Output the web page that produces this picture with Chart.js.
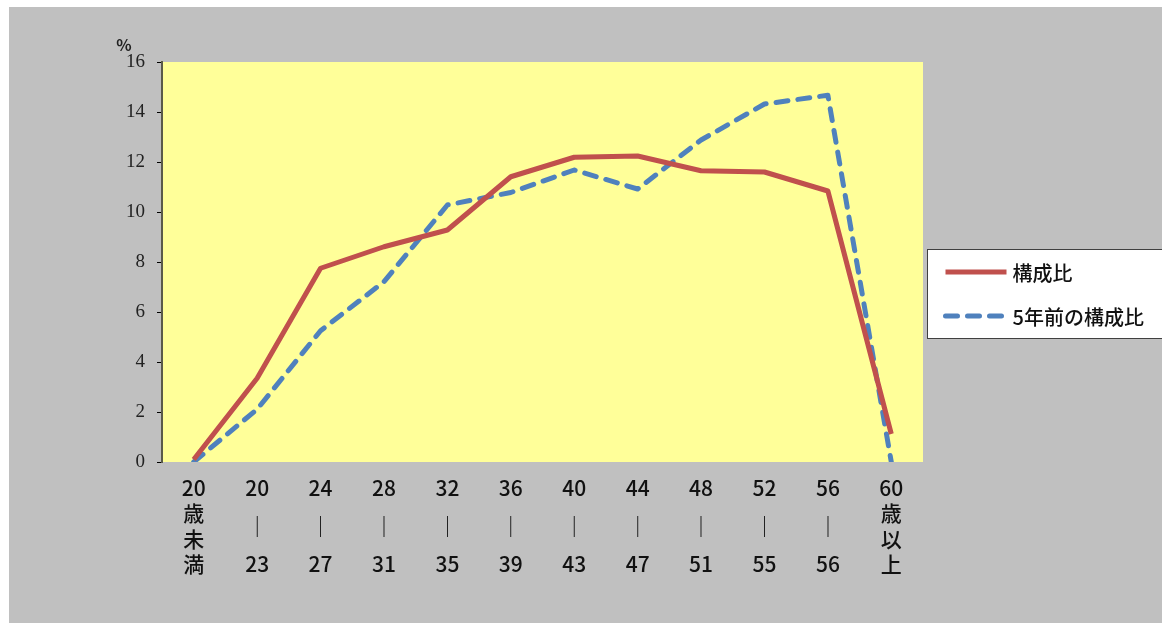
<!DOCTYPE html>
<html lang="ja">
<head>
<meta charset="utf-8">
<title>構成比</title>
<script src="https://cdn.jsdelivr.net/npm/chart.js@4/dist/chart.umd.min.js"></script>
<style>
  html, body { margin: 0; padding: 0; background: #fff; overflow: hidden; }
  .frame {
    position: absolute; left: 9px; top: 7px; width: 1153px; height: 616px;
    background: #c0c0c0;
  }
  canvas { display: block; }
</style>
</head>
<body>
<div class="frame"><canvas id="age-chart" width="1153" height="616"></canvas></div>
<script>
// 年齢区分（各行は半行ずつ：数字 / 縦線 / 数字）
const ageLabels = [
  ['20', '', '歳', '', '未', '', '満'],
  ['20', '', '', '｜', '', '', '23'],
  ['24', '', '', '｜', '', '', '27'],
  ['28', '', '', '｜', '', '', '31'],
  ['32', '', '', '｜', '', '', '35'],
  ['36', '', '', '｜', '', '', '39'],
  ['40', '', '', '｜', '', '', '43'],
  ['44', '', '', '｜', '', '', '47'],
  ['48', '', '', '｜', '', '', '51'],
  ['52', '', '', '｜', '', '', '55'],
  ['56', '', '', '｜', '', '', '56'],
  ['60', '', '歳', '', '以', '', '上']
];
const currentShare = [0.1, 3.35, 7.75, 8.61, 9.28, 11.41, 12.19, 12.24, 11.65, 11.6, 10.84, 1.12];
const previousShare = [0, 2.11, 5.25, 7.21, 10.28, 10.78, 11.68, 10.92, 12.88, 14.32, 14.67, 0];
const yTicks = [0, 2, 4, 6, 8, 10, 12, 14, 16];

const plotBackground = {
  id: 'plotBackground',
  beforeDraw (chart) {
    const { ctx, chartArea: a } = chart;
    ctx.save();
    ctx.fillStyle = '#ffff99';
    ctx.fillRect(a.left, a.top, a.right - a.left, a.bottom - a.top);
    ctx.restore();
  },
  afterDraw (chart) {
    const { ctx, chartArea: a } = chart;
    ctx.save();
    // unit label
    ctx.fillStyle = '#222';
    ctx.font = 'bold 16px "Noto Sans CJK JP", sans-serif';
    ctx.textAlign = 'center';
    ctx.textBaseline = 'middle';
    ctx.fillText('%', a.left - 38, a.top - 17);

    // legend box
    const boxLeft = a.right + 4.5;
    const boxTop = 242.5;
    const boxBottom = 331.5;
    ctx.fillStyle = '#ffffff';
    ctx.fillRect(boxLeft, boxTop, chart.width - boxLeft + 10, boxBottom - boxTop);
    ctx.strokeStyle = '#404040';
    ctx.lineWidth = 1;
    ctx.strokeRect(boxLeft, boxTop, chart.width - boxLeft + 10, boxBottom - boxTop);

    const rows = [265, 309];
    chart.data.datasets.forEach((ds, i) => {
      const y = rows[i];
      ctx.beginPath();
      ctx.strokeStyle = ds.borderColor;
      ctx.lineWidth = ds.borderWidth;
      ctx.lineCap = ds.borderCapStyle;
      ctx.setLineDash(ds.borderDash || []);
      ctx.moveTo(boxLeft + 18, y);
      ctx.lineTo(boxLeft + 79, y);
      ctx.stroke();
      ctx.setLineDash([]);
      ctx.fillStyle = '#111';
      ctx.font = '500 20px "Noto Sans CJK JP", sans-serif';
      ctx.textAlign = 'left';
      ctx.fillText(ds.label, boxLeft + 85, y + 1);
    });
    ctx.restore();
  }
};

new Chart(document.getElementById('age-chart'), {
  type: 'line',
  data: {
    labels: ageLabels,
    datasets: [
      {
        label: '構成比',
        data: currentShare,
        borderColor: '#c0504d',
        borderWidth: 5,
        borderCapStyle: 'butt',
        borderJoinStyle: 'round',
        pointRadius: 0,
        tension: 0,
        fill: false
      },
      {
        label: '5年前の構成比',
        data: previousShare,
        borderColor: '#4f81bd',
        borderWidth: 5,
        borderDash: [12, 10],
        borderCapStyle: 'round',
        borderJoinStyle: 'round',
        pointRadius: 0,
        tension: 0,
        fill: false
      }
    ]
  },
  options: {
    responsive: false,
    animation: false,
    events: [],
    layout: { padding: { top: 55, right: 239, left: 0, bottom: 0 } },
    plugins: {
      legend: { display: false },
      tooltip: { enabled: false }
    },
    scales: {
      x: {
        offset: true,
        grid: { display: false },
        border: { display: false },
        ticks: {
          autoSkip: false,
          maxRotation: 0,
          padding: 12,
          color: '#111',
          font: { family: '"Noto Sans CJK JP", sans-serif', size: 21, weight: '500', lineHeight: 0.6 }
        },
        afterFit (scale) { scale.height = 161; }
      },
      y: {
        min: 0,
        max: 16,
        afterBuildTicks (scale) { scale.ticks = yTicks.map(v => ({ value: v })); },
        grid: {
          drawOnChartArea: false,
          drawTicks: true,
          tickLength: 5,
          color: '#000'
        },
        border: { display: true, color: '#5a5a4a', width: 2 },
        ticks: {
          padding: 12,
          color: '#222',
          font: { family: '"Liberation Serif", serif', size: 19 }
        },
        afterFit (scale) { scale.width = 153; }
      }
    }
  },
  plugins: [plotBackground]
});
</script>
</body>
</html>
